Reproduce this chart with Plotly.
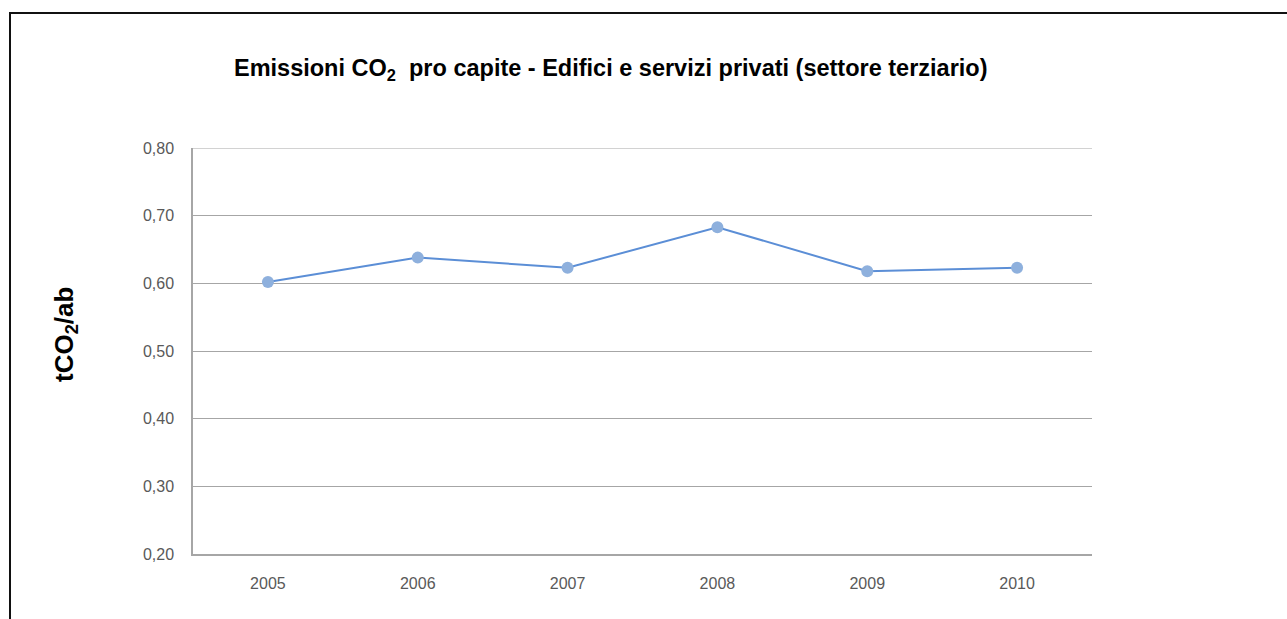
import plotly.graph_objects as go

# Per-capita CO2 emissions, private buildings and services (tertiary sector)
years = ["2005", "2006", "2007", "2008", "2009", "2010"]
emissions = [0.602, 0.638, 0.623, 0.683, 0.618, 0.623]
y_ticks = [0.20, 0.30, 0.40, 0.50, 0.60, 0.70, 0.80]

W, H = 1287, 619
ML, MR, MT, MB = 193, 195, 148, 65
PW, PH = W - ML - MR, H - MT - MB


def px_x(px):
    return (px - ML) / PW


def px_y(py):
    return (H - MB - py) / PH


fig = go.Figure()
fig.add_trace(go.Scatter(
    x=years, y=emissions, mode="lines+markers",
    line=dict(color="#5b8ed6", width=2),
    marker=dict(color="#8eb0dd", size=12, line=dict(width=0)),
    showlegend=False, hoverinfo="x+y",
))

fig.update_layout(
    width=W, height=H,
    margin=dict(l=ML, r=MR, t=MT, b=MB),
    paper_bgcolor="white", plot_bgcolor="white",
    separators=",.",
    font=dict(family="Liberation Sans, Arial, sans-serif", color="#595959", size=16),
    xaxis=dict(
        type="category", range=[-0.5, len(years) - 0.5],
        showgrid=False, showline=True, linecolor="#a6a6a6",
        linewidth=1.5, ticks="", ticklabelstandoff=14,
        tickfont=dict(size=16, color="#595959"), mirror=False,
    ),
    yaxis=dict(
        range=[0.20, 0.80], tickvals=y_ticks, tickformat=".2f",
        showgrid=True, gridcolor="#a6a6a6", gridwidth=1.2,
        showline=True, linecolor="#a6a6a6", linewidth=1.5,
        zeroline=False, ticks="", ticklabelstandoff=14,
        tickfont=dict(size=16, color="#595959"),
    ),
)

# Top gridline at 0,80 drawn explicitly across the plot width
fig.add_shape(type="line", xref="paper", yref="y", x0=0, x1=1, y0=0.80, y1=0.80,
              line=dict(color="#a6a6a6", width=1.2), layer="below")

# Outer chart frame (extends beyond the visible page on right and bottom)
fig.add_shape(type="rect", xref="paper", yref="paper",
              x0=px_x(10), x1=px_x(1400), y0=px_y(700), y1=px_y(13),
              line=dict(color="#111111", width=2), fillcolor="rgba(0,0,0,0)")

fig.add_annotation(
    xref="paper", yref="paper", x=px_x(611), y=px_y(70),
    text="Emissioni CO<sub>2</sub>  pro capite - Edifici e servizi privati (settore terziario)",
    showarrow=False, xanchor="center", yanchor="middle",
    font=dict(family="Liberation Sans, Arial, sans-serif",
              size=23.5, color="#000000", weight="bold"),
)

fig.add_annotation(
    xref="paper", yref="paper", x=px_x(65), y=px_y(335),
    text="tCO<sub>2</sub>/ab", textangle=-90,
    showarrow=False, xanchor="center", yanchor="middle",
    font=dict(family="Liberation Sans, Arial, sans-serif", size=26,
              color="#000000", weight="bold"),
)

fig.write_html("out.html")
